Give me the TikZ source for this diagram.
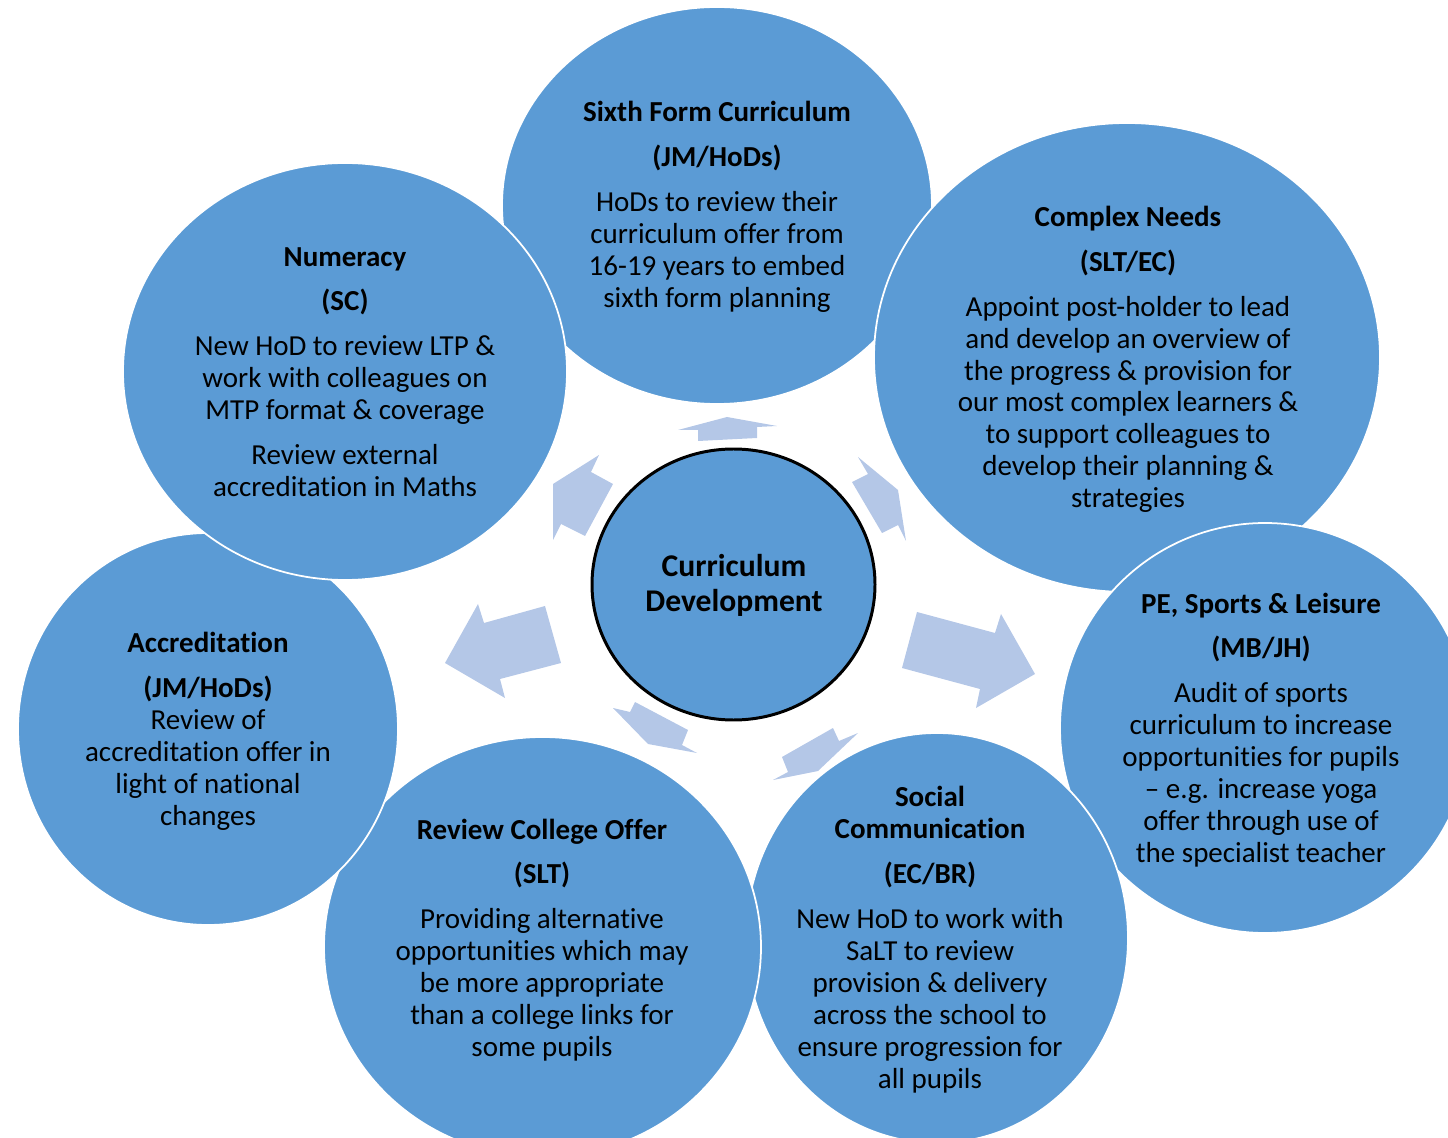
\documentclass[tikz,border=0pt]{standalone}
\usepackage{fontspec}
\setmainfont[Ligatures={NoCommon,NoContextual}]{Carlito}
\definecolor{bubbleblue}{RGB}{91,155,213}
\definecolor{spokeblue}{RGB}{180,199,231}
\tikzset{
  bubble/.style={fill=bubbleblue, draw=white, line width=1pt},
  hub/.style={fill=bubbleblue, draw=black, line width=1.7pt},
  spoke/.style={fill=spokeblue},
  bubbletext/.style={align=center, inner sep=0pt, font=\fontsize{16.5}{18.2}\selectfont},
  hubtext/.style={align=center, inner sep=0pt, font=\fontsize{18}{19.8}\selectfont\bfseries},
}
\def\titlegap{\\[7.3pt]}

\begin{document}
\begin{tikzpicture}[x=0.02cm, y=-0.02cm]
			%%%%% START %%%%%
			\useasboundingbox (0,0) rectangle (1448,1138);
			\clip (0,0) rectangle (1448,1138);
			
			% arrows round the hub
			\fill[spoke] (678,430) -- (727,417) -- (777,426) -- (757,427) -- (757,438) -- (698,441) -- (698,430) -- cycle;
			\fill[spoke] (599,455) -- (591,472) -- (613,484) -- (585,536) -- (561,524) -- (553,540) -- (553,484) -- cycle;
			\fill[spoke] (858,457) -- (868,474) -- (852,482) -- (882,533) -- (898,525) -- (906,541) -- (898,490) -- cycle;
			\fill[spoke] (917,612) -- (995,633) -- (1001,614) -- (1035,674) -- (976,708) -- (980,689) -- (902,668) -- cycle;
			\fill[spoke] (545,606) -- (484,623) -- (478,604) -- (445,663) -- (505,698) -- (500,679) -- (561,663) -- cycle;
			\fill[spoke] (613,708) -- (630,712) -- (635,702) -- (688,730) -- (682,745) -- (697,753) -- (648,744) -- cycle;
			\fill[spoke] (858,733) -- (839,741) -- (833,728) -- (782,757) -- (788,772) -- (773,780) -- (818,771) -- cycle;
			
			% bubbles, back to front
			\draw[bubble] (717,205.5) ellipse (215 and 198.5);
			\draw[bubble] (1127,357.5) ellipse (253 and 234.5);
			\draw[bubble] (1265,728) ellipse (205 and 205);
			\draw[bubble] (937,938) ellipse (191 and 205);
			\draw[bubble] (542.5,947) ellipse (218.5 and 210);
			\draw[bubble] (208,729) ellipse (190 and 196);
			\draw[bubble] (345,371.5) ellipse (222 and 208.5);
			
			\draw[hub] (733.5,584.5) ellipse (141.5 and 135.5);
			
			% texts
			\node[hubtext] (hubname) at (734,585.5) {Curriculum\\Development};
			
			\node[bubbletext] (sixth) at (717,207) {\textbf{Sixth Form Curriculum}\titlegap\textbf{(JM/HoDs)}\titlegap HoDs to review their\\curriculum offer from\\16-19 years to embed\\sixth form planning};
			
			\node[bubbletext] (complex) at (1128,359.5) {\textbf{Complex Needs}\titlegap\textbf{(SLT/EC)}\titlegap Appoint post-holder to lead\\and develop an overview of\\the progress \& provision for\\our most complex learners \&\\to support colleagues to\\develop their planning \&\\strategies};
			
			\node[bubbletext] (sports) at (1261,730) {\textbf{PE, Sports \& Leisure}\titlegap\textbf{(MB/JH)}\titlegap Audit of sports\\curriculum to increase\\opportunities for pupils\\– e.g. increase yoga\\offer through use of\\the specialist teacher};
			
			\node[bubbletext] (social) at (930,939.5) {\textbf{Social}\\\textbf{Communication}\titlegap\textbf{(EC/BR)}\titlegap New HoD to work with\\SaLT to review\\provision \& delivery\\across the school to\\ensure progression for\\all pupils};
			
			\node[bubbletext] (college) at (542,940) {\textbf{Review College Offer}\titlegap\textbf{(SLT)}\titlegap Providing alternative\\opportunities which may\\be more appropriate\\than a college links for\\some pupils};
			
			\node[bubbletext] (accred) at (208,731) {\textbf{Accreditation}\titlegap\textbf{(JM/HoDs)}\\Review of\\accreditation offer in\\light of national\\changes};
			
			\node[bubbletext] (numeracy) at (345,372) {\textbf{Numeracy}\titlegap\textbf{(SC)}\titlegap New HoD to review LTP \&\\work with colleagues on\\MTP format \& coverage\titlegap Review external\\accreditation in Maths};
			%%%%% END %%%%%
\end{tikzpicture}
\end{document}
